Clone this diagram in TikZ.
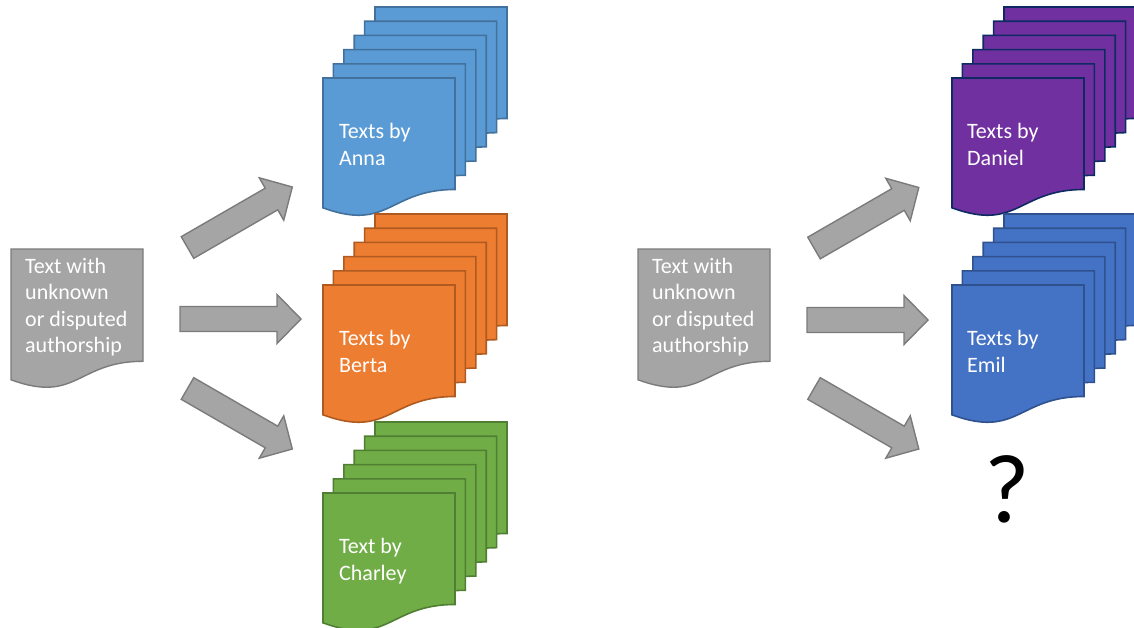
\documentclass[tikz,border=0pt]{standalone}
\usepackage{fontspec}
\setmainfont{Carlito}
\definecolor{annaF}{HTML}{5B9BD5}\definecolor{annaD}{HTML}{41719C}
\definecolor{bertaF}{HTML}{ED7D31}\definecolor{bertaD}{HTML}{AE5A21}
\definecolor{charF}{HTML}{70AD47}\definecolor{charD}{HTML}{507E32}
\definecolor{danF}{HTML}{7030A0}\definecolor{danD}{HTML}{0F2A63}
\definecolor{emilF}{HTML}{4472C4}\definecolor{emilD}{HTML}{2F528F}
\definecolor{grayF}{HTML}{A5A5A5}\definecolor{grayD}{HTML}{7B7B7B}
\newcommand\docshape[4]{%
  \filldraw[#4] ({#1},{#2}) -- ({#1+132},{#2}) -- ({#1+132},{#2+0.802*#3})
    .. controls ({#1+66},{#2+0.802*#3}) and ({#1+66},{#2+1.1075*#3}) .. ({#1},{#2+0.934*#3}) -- cycle;}
\newcommand\docstack[3]{%
  \foreach \i in {5,4,...,0} {\docshape{#1+10.4*\i}{#2-14.2*\i}{139}{#3}}}
\newcommand\blockarrow[3]{%
  \filldraw[arrowbox, shift={(#1,#2)}, rotate=#3] (0,-12.5) -- (97,-12.5) -- (97,-24.5) -- (121,0) -- (97,24.5) -- (97,12.5) -- (0,12.5) -- cycle;}
\begin{document}
\begin{tikzpicture}[x=1pt,y=-1pt,
  page/.style={line width=1.6pt, line join=miter},
  annaP/.style={page, fill=annaF, draw=annaD},
  bertaP/.style={page, fill=bertaF, draw=bertaD},
  charP/.style={page, fill=charF, draw=charD},
  danP/.style={page, fill=danF, draw=danD},
  emilP/.style={page, fill=emilF, draw=emilD},
  grayP/.style={page, fill=grayF, draw=grayD, line width=1.4pt},
  arrowbox/.style={fill=grayF, draw=grayD, line width=1.4pt, line join=miter},
  lbl/.style={text=white, font=\fontsize{22}{26}\selectfont, anchor=base west, inner sep=0pt}]
\useasboundingbox (0,0) rectangle (1134,627);
% left gray document
\docshape{11}{249}{140}{grayP}
\node[lbl] (q1a) at (25,273) {Text with};
\node[lbl] (q1b) at (25,299.5) {unknown};
\node[lbl] (q1c) at (25,326) {or disputed};
\node[lbl] (q1d) at (25,352) {authorship};
% right gray document
\docshape{638}{249}{140}{grayP}
\node[lbl] (q2a) at (652,273) {Text with};
\node[lbl] (q2b) at (652,299.5) {unknown};
\node[lbl] (q2c) at (652,326) {or disputed};
\node[lbl] (q2d) at (652,352) {authorship};
% arrows left
\blockarrow{187.5}{247.5}{30}
\blockarrow{180}{319}{0}
\blockarrow{187.5}{388.5}{-30}
% arrows right
\blockarrow{814}{248}{30}
\blockarrow{807}{320}{0}
\blockarrow{814}{388.5}{-30}
% stacks
\docstack{323}{78}{annaP}
\node[lbl] (annaA) at (339,138) {Texts by};
\node[lbl] (annaB) at (339,165) {Anna};
\docstack{323}{285}{bertaP}
\node[lbl] (bertaA) at (339,345.5) {Texts by};
\node[lbl] (bertaB) at (339,372) {Berta};
\docstack{323}{493}{charP}
\node[lbl] (charA) at (339,553) {Text by};
\node[lbl] (charB) at (339,580) {Charley};
\docstack{952}{78}{danP}
\node[lbl] (danA) at (967,138) {Texts by};
\node[lbl] (danB) at (967,165) {Daniel};
\docstack{952}{285}{emilP}
\node[lbl] (emilA) at (967,345.5) {Texts by};
\node[lbl] (emilB) at (967,372) {Emil};
\node[font=\fontsize{98}{100}\selectfont, anchor=base, inner sep=0pt] (qm) at (1007,522) {?};
\end{tikzpicture}
\end{document}
